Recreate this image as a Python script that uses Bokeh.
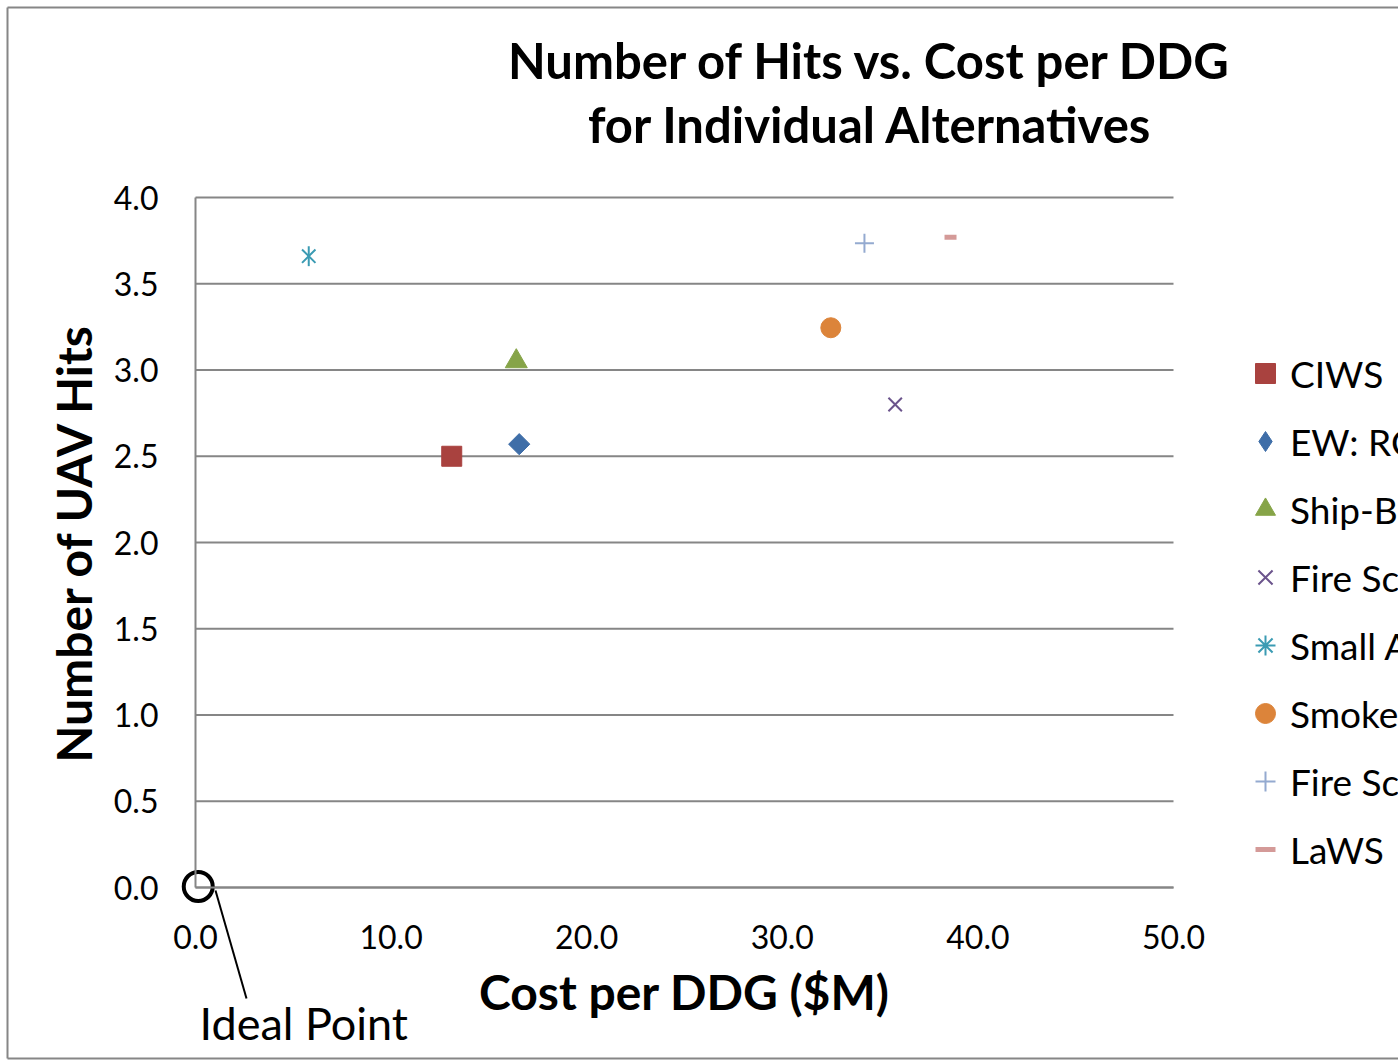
import numpy as np
from bokeh.plotting import figure
from bokeh.models import (Legend, LegendItem, Label, NumeralTickFormatter,
                          FixedTicker, Range1d)
from bokeh.embed import file_html
from bokeh.resources import INLINE

# ---------------- data ----------------
series = ["CIWS", "EW: RC", "Ship-B", "Fire Sc", "Small A", "Smoke", "Fire Sc", "LaWS"]
cost = [13.1, 16.55, 16.4, 35.77, 5.79, 32.48, 34.2, 38.6]
hits = [2.50, 2.57, 3.05, 2.80, 3.66, 3.245, 3.735, 3.77]
x_ticks = [0, 10, 20, 30, 40, 50]
y_ticks = [0.0, 0.5, 1.0, 1.5, 2.0, 2.5, 3.0, 3.5, 4.0]
title_lines = ["Number of Hits vs. Cost per DDG", "for Individual Alternatives"]
x_title = "Cost per DDG ($M)"
y_title = "Number of UAV Hits"
note_text = "Ideal Point"
ideal_x, ideal_y = 0.14, 0.006

# ---------------- layout / styles ----------------
W, H = 1398, 1062
PL, PR, PT, PB = 195, 1173, 197, 887          # data area in canvas pixels
XMIN, XMAX = x_ticks[0], x_ticks[-1]
YMIN, YMAX = y_ticks[0], y_ticks[-1]
xs_per_px = (XMAX - XMIN) / (PR - PL)
ys_per_px = (YMAX - YMIN) / (PB - PT)
x_range = Range1d(XMIN - PL * xs_per_px, XMAX + (W - PR) * xs_per_px)
y_range = Range1d(YMIN - (H - PB) * ys_per_px, YMAX + PT * ys_per_px)

def px2x(px):
    return XMIN + (px - PL) * xs_per_px

def px2y(py):
    return YMIN + (PB - py) * ys_per_px

colors = ["#A9423F", "#3F6EA8", "#86A448", "#6B548C", "#3B9BB3", "#DC843A", "#94AAD0", "#D49A98"]
FONT = "Lato"
GRID = "#868686"

p = figure(width=W, height=H, output_backend="svg", toolbar_location=None,
           x_range=x_range, y_range=y_range, min_border=0)
p.outline_line_color = None
p.background_fill_color = "white"
p.border_fill_color = "white"
p.xgrid.visible = False
p.ygrid.visible = False

# gridlines (data area only)
p.segment(x0=[XMIN] * len(y_ticks), x1=[XMAX] * len(y_ticks), y0=y_ticks, y1=y_ticks,
          line_color=GRID, line_width=2)

xa, ya = p.xaxis[0], p.yaxis[0]
xa.fixed_location = YMIN
ya.fixed_location = XMIN
xa.bounds = (XMIN, XMAX)
ya.bounds = (YMIN, YMAX)
for ax in (xa, ya):
    ax.axis_line_color = GRID
    ax.axis_line_width = 2
    ax.major_tick_out = 0
    ax.major_tick_in = 0
    ax.minor_tick_out = 0
    ax.minor_tick_in = 0
    ax.major_label_text_font = FONT
    ax.major_label_text_font_size = "32px"
    ax.major_label_text_color = "black"
    ax.formatter = NumeralTickFormatter(format="0.0")
    ax.axis_label_text_font = FONT
    ax.axis_label_text_font_style = "bold"
    ax.axis_label_text_font_size = "48px"
    ax.axis_label_text_color = "black"
xa.ticker = FixedTicker(ticks=x_ticks)
ya.ticker = FixedTicker(ticks=y_ticks)
xa.axis_label = x_title
ya.axis_label = y_title
xa.major_label_standoff = 37
ya.major_label_standoff = 37
xa.axis_label_standoff = 11
ya.axis_label_standoff = 9

# ---------------- markers ----------------
items = []
NAN = [float("nan")]
def one(i):
    return dict(x=[cost[i]], y=[hits[i]])

r0 = p.scatter(**one(0), marker="square", size=20, fill_color=colors[0], line_color=colors[0])
items.append(LegendItem(label=series[0], renderers=[r0]))

p.scatter(**one(1), marker="square", size=15, angle=np.pi / 4, fill_color=colors[1], line_color=colors[1])
l1 = p.scatter(x=NAN, y=NAN, marker="diamond", size=20, fill_color=colors[1], line_color=colors[1])
items.append(LegendItem(label=series[1], renderers=[l1]))

r2 = p.scatter(**one(2), marker="triangle", size=22, fill_color=colors[2], line_color=colors[2])
items.append(LegendItem(label=series[2], renderers=[r2]))

r3 = p.scatter(**one(3), marker="x", size=19, line_color=colors[3], line_width=2)
items.append(LegendItem(label=series[3], renderers=[r3]))

p.scatter(**one(4), marker="x", size=19, line_color=colors[4], line_width=2)
p.scatter(**one(4), marker="dash", size=20, angle=np.pi / 2, line_color=colors[4], line_width=2)
l4 = p.scatter(x=NAN, y=NAN, marker="asterisk", size=20, line_color=colors[4], line_width=2)
items.append(LegendItem(label=series[4], renderers=[l4]))

r5 = p.scatter(**one(5), marker="circle", size=20, fill_color=colors[5], line_color=colors[5])
items.append(LegendItem(label=series[5], renderers=[r5]))

r6 = p.scatter(**one(6), marker="cross", size=19, line_color=colors[6], line_width=2)
items.append(LegendItem(label=series[6], renderers=[r6]))

r7 = p.scatter(**one(7), marker="dash", size=12, line_color=colors[7], line_width=5)
items.append(LegendItem(label=series[7], renderers=[r7]))

legend = Legend(items=items, location=(1240, H - 874), orientation="vertical",
                glyph_width=50, glyph_height=50, label_height=50, label_standoff=-2,
                spacing=18, padding=0, margin=0, border_line_color=None,
                background_fill_alpha=0, label_text_font=FONT,
                label_text_font_size="37px", label_text_color="black")
p.add_layout(legend)

# ---------------- title ----------------
for txt, base in zip(title_lines, (59, 123)):
    p.add_layout(Label(x=px2x(870), y=px2y(base), text=txt, text_align="center",
                       text_baseline="alphabetic", text_font=FONT, text_font_style="bold",
                       text_font_size="49px", text_color="black"))

# ---------------- ideal point annotation ----------------
p.scatter(x=[ideal_x], y=[ideal_y], marker="circle", size=29, fill_color=None,
          line_color="black", line_width=4)
p.segment(x0=[px2x(215)], y0=[px2y(890)], x1=[px2x(246)], y1=[px2y(998)],
          line_color="black", line_width=2)
p.add_layout(Label(x=px2x(199), y=px2y(1022), text=note_text, text_align="left",
                   text_baseline="alphabetic", text_font=FONT, text_font_size="45px",
                   text_color="black"))

# ---------------- chart frame ----------------
p.segment(x0=[px2x(7), px2x(7), px2x(7)], y0=[px2y(7), px2y(7), px2y(1058)],
          x1=[px2x(7), px2x(W + 50), px2x(W + 50)], y1=[px2y(1058), px2y(7), px2y(1058)],
          line_color=GRID, line_width=2)

open("out.html", "w").write(file_html(p, INLINE))
